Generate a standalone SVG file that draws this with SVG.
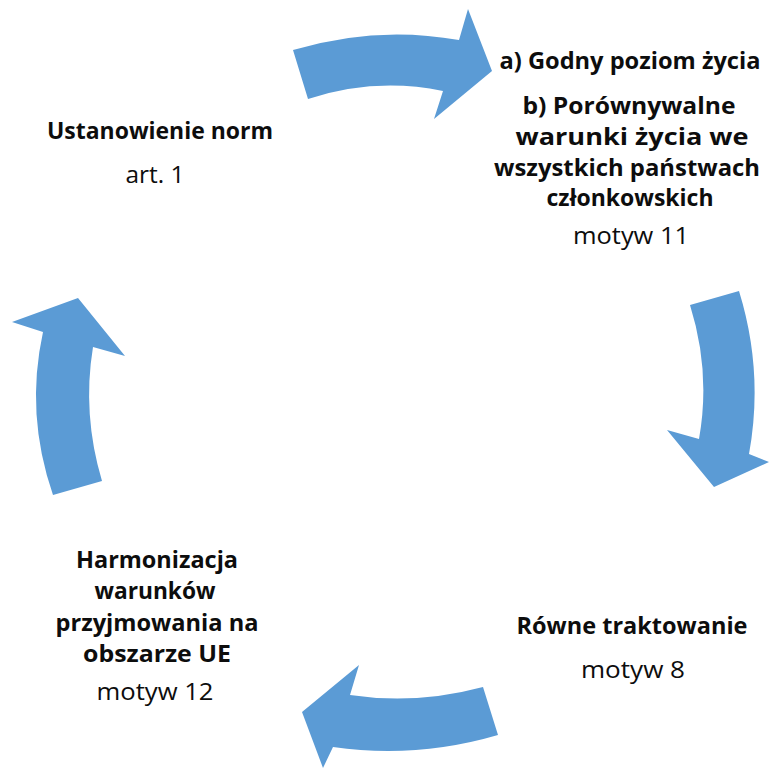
<svg xmlns="http://www.w3.org/2000/svg" width="769" height="769" viewBox="0 0 769 769">
<style>
.arrow{fill:#5B9BD5;stroke:none}
text{font-family:"Open Sans","Noto Sans","Liberation Sans",sans-serif;font-size:24px;fill:#0d0d0d;text-anchor:middle}
.b{font-weight:bold}
</style>
<rect width="769" height="769" fill="#ffffff"/>
<g id="connectors">
<path class="arrow" d="M293,50 Q376,25 459,40 L468,9 L492,71 L434,119 L443,91 Q375,77 308,99 Z"/>
<path class="arrow" d="M690,305 L739,291 Q764,372 749,454 L769,462 L714,487 L667,430 L699,439 Q711,372 690,305 Z"/>
<path class="arrow" d="M483,687 L498,735 Q416,759 333,747 L323,768 L302,712 L359,665 L350,695 Q416,705 483,687 Z"/>
<path class="arrow" d="M53,495 L102,481 Q82,414 93,347 L125,356 L78,298 L12,322 L43,332 Q25,414 53,495 Z"/>
</g>
<g id="node-ustanowienie">
<text class="b" x="160" y="139" textLength="226" lengthAdjust="spacingAndGlyphs">Ustanowienie norm</text>
<text x="155" y="183" textLength="59" lengthAdjust="spacingAndGlyphs">art. 1</text>
</g>
<g id="node-godny">
<text class="b" x="630" y="69" textLength="261" lengthAdjust="spacingAndGlyphs">a) Godny poziom życia</text>
<text class="b" x="629" y="114" textLength="213" lengthAdjust="spacingAndGlyphs">b) Porównywalne</text>
<text class="b" x="632" y="145" textLength="233" lengthAdjust="spacingAndGlyphs">warunki życia we</text>
<text class="b" x="627" y="176" textLength="266" lengthAdjust="spacingAndGlyphs">wszystkich państwach</text>
<text class="b" x="630" y="206" textLength="167" lengthAdjust="spacingAndGlyphs">członkowskich</text>
<text x="631" y="244" textLength="116" lengthAdjust="spacingAndGlyphs">motyw 11</text>
</g>
<g id="node-rowne">
<text class="b" x="632" y="634" textLength="231" lengthAdjust="spacingAndGlyphs">Równe traktowanie</text>
<text x="633" y="678" textLength="104" lengthAdjust="spacingAndGlyphs">motyw 8</text>
</g>
<g id="node-harmonizacja">
<text class="b" x="157" y="568" textLength="162" lengthAdjust="spacingAndGlyphs">Harmonizacja</text>
<text class="b" x="155" y="599" textLength="121" lengthAdjust="spacingAndGlyphs">warunków</text>
<text class="b" x="157" y="631" textLength="203" lengthAdjust="spacingAndGlyphs">przyjmowania na</text>
<text class="b" x="157" y="662" textLength="148" lengthAdjust="spacingAndGlyphs">obszarze UE</text>
<text x="155" y="700" textLength="117" lengthAdjust="spacingAndGlyphs">motyw 12</text>
</g>
</svg>
